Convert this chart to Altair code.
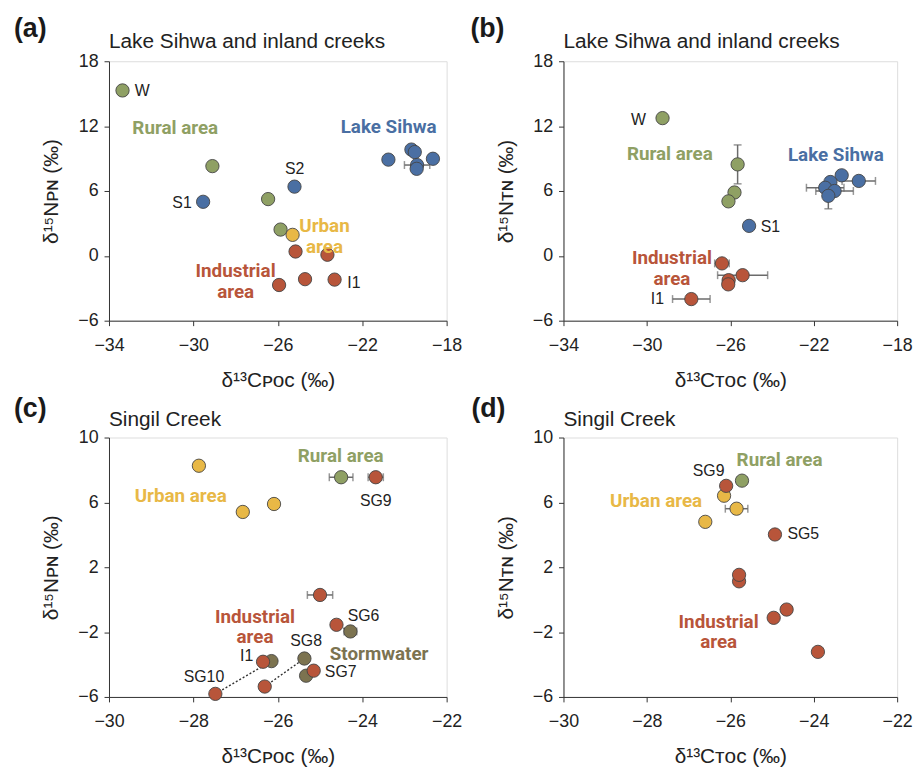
import altair as alt
import pandas as pd

FONT = "Liberation Sans, Arial, Helvetica, sans-serif"
BOLD_FONT = "Roboto, Liberation Sans Narrow, Arial, sans-serif"
TXT = "#222222"
ERR = "#6b6b6b"

group_names = ["Rural", "Lake", "Urban", "Industrial", "Storm"]
group_fill = ["#8fa064", "#4a6fa3", "#e8b846", "#b8553a", "#7c7350"]
group_text = ["#8a9d62", "#4d6a9a", "#e5b640", "#b95a3e", "#7b7250"]

# ---------------- panel (a) ----------------
a_x = [-33.36, -29.1, -26.46, -25.87, -29.54, -25.21, -20.76, -19.67, -19.51, -19.4, -19.42, -18.65,
       -25.3, -25.16, -23.65, -24.71, -23.31, -25.94]
a_y = [15.3, 8.3, 5.25, 2.43, 5.0, 6.4, 8.9, 9.83, 9.6, 8.4, 8.05, 8.98,
       1.94, 0.4, 0.1, -2.16, -2.2, -2.7]
a_g = ["Rural"] * 4 + ["Lake"] * 8 + ["Urban"] + ["Industrial"] * 5
a_xerr = [0] * 9 + [0.6] + [0] * 8
a_yerr = [0] * 18
a_lab = ["W", "S1", "S2", "I1"]
a_lab_x = [-32.78, -30.08, -25.2, -22.71]
a_lab_y = [15.2, 4.85, 8.0, -2.49]
a_lab_al = ["left", "right", "center", "left"]
a_reg = ["Rural area", "Lake Sihwa", "Urban\narea", "Industrial\narea"]
a_reg_x = [-30.86, -20.75, -23.79, -28.0]
a_reg_y = [11.85, 11.94, 2.73, -1.44]
a_reg_g = ["Rural", "Lake", "Urban", "Industrial"]

# ---------------- panel (b) ----------------
b_x = [-29.25, -25.65, -25.8, -26.09, -25.1, -20.66, -19.84, -21.2, -21.45, -21.0, -21.3,
       -26.4, -26.08, -26.1, -25.41, -27.87]
b_y = [12.74, 8.46, 5.86, 5.04, 2.77, 7.45, 6.93, 6.83, 6.3, 6.0, 5.55,
       -0.7, -2.25, -2.64, -1.79, -4.0]
b_g = ["Rural"] * 4 + ["Lake"] * 7 + ["Industrial"] * 5
b_xerr = [0, 0, 0, 0, 0, 0, 0.8, 0, 0.9, 0.9, 0, 0.35, 0, 0, 1.2, 0.9]
b_yerr = [0, 1.8, 0, 0, 0, 0, 0, 0, 0, 0, 1.2, 0, 0, 0, 0, 0]
b_lab = ["W", "S1", "I1"]
b_lab_x = [-30.04, -24.54, -29.18]
b_lab_y = [12.59, 2.65, -4.0]
b_lab_al = ["right", "left", "right"]
b_reg = ["Rural area", "Lake Sihwa", "Industrial\narea"]
b_reg_x = [-28.9, -20.94, -28.8]
b_reg_y = [9.38, 9.28, -0.21]
b_reg_g = ["Rural", "Lake", "Industrial"]

# ---------------- panel (c) ----------------
c_x = [-27.87, -26.83, -26.09, -24.5, -24.28, -26.15, -25.37, -25.33,
       -23.68, -25.0, -24.61, -26.35, -25.15, -26.31, -27.48]
c_y = [8.26, 5.41, 5.9, 7.55, -1.96, -3.79, -3.63, -4.69,
       7.55, 0.29, -1.55, -3.83, -4.38, -5.36, -5.81]
c_g = ["Urban"] * 3 + ["Rural"] + ["Storm"] * 4 + ["Industrial"] * 7
c_xerr = [0, 0, 0, 0.28, 0.15, 0, 0, 0, 0.18, 0.3, 0, 0, 0, 0, 0]
c_yerr = [0] * 15
c_lab = ["SG9", "SG6", "SG8", "I1", "SG7", "SG10"]
c_lab_x = [-23.68, -23.97, -25.33, -26.74, -24.51, -27.75]
c_lab_y = [6.08, -0.98, -2.57, -3.45, -4.49, -4.75]
c_lab_al = ["center"] * 6
c_reg = ["Rural area", "Urban area", "Industrial\narea", "Stormwater"]
c_reg_x = [-24.51, -28.3, -26.54, -23.6]
c_reg_y = [8.86, 6.36, -1.05, -3.38]
c_reg_g = ["Rural", "Urban", "Industrial", "Storm"]
c_pair = [1, 1, 2, 2, 3, 3, 4, 4]
c_pair_x = [-27.48, -26.15, -26.31, -25.37, -25.15, -25.33, -24.61, -24.28]
c_pair_y = [-5.81, -3.79, -5.36, -3.63, -4.38, -4.69, -1.55, -1.96]

# ---------------- panel (d) ----------------
d_x = [-26.15, -25.85, -26.6, -25.72, -26.1, -24.93, -25.79, -25.79, -24.65, -24.96, -23.9]
d_y = [6.41, 5.61, 4.8, 7.34, 7.02, 4.02, 1.13, 1.53, -0.61, -1.12, -3.22]
d_g = ["Urban"] * 3 + ["Rural"] + ["Industrial"] * 7
d_xerr = [0, 0.27, 0, 0.12, 0, 0, 0, 0, 0, 0, 0]
d_yerr = [0] * 11
d_lab = ["SG9", "SG5"]
d_lab_x = [-26.52, -24.63]
d_lab_y = [7.94, 4.02]
d_lab_al = ["center", "left"]
d_reg = ["Rural area", "Urban area", "Industrial\narea"]
d_reg_x = [-24.82, -27.78, -26.28]
d_reg_y = [8.64, 6.06, -1.36]
d_reg_g = ["Rural", "Urban", "Industrial"]

ticks_ab_x = [-34, -30, -26, -22, -18]
ticks_ab_y = [-6, 0, 6, 12, 18]
ticks_cd_x = [-30, -28, -26, -24, -22]
ticks_cd_y = [-6, -2, 2, 6, 10]

X_POC = "δ¹³Cᴘᴏᴄ (‰)"
X_TOC = "δ¹³Cᴛᴏᴄ (‰)"
Y_PN = "δ¹⁵Nᴘɴ (‰)"
Y_TN = "δ¹⁵Nᴛɴ (‰)"


def panel(px, py, pg, pxerr, pyerr, lab, lab_x, lab_y, lab_al, reg, reg_x, reg_y, reg_g,
          xdom, ydom, xt, yt, xtitle, ytitle, letter, title, w, h, lx, ly, ty,
          pair=None, pair_x=None, pair_y=None):
    xs = alt.Scale(domain=xdom, nice=False, zero=False)
    ys = alt.Scale(domain=ydom, nice=False, zero=False)
    common = dict(grid=False, domainColor="#333", tickColor="#333", tickSize=5,
                  labelFont=FONT, titleFont=FONT, labelFontSize=18, titleFontSize=21,
                  titleFontWeight="normal", labelColor=TXT, titleColor=TXT,
                  labelFlush=False, labelOverlap=False)
    xax = alt.Axis(values=xt, title=xtitle, labelPadding=11, titlePadding=15, **common)
    yax = alt.Axis(values=yt, title=ytitle, labelPadding=6, titlePadding=16, **common)

    def X(f):
        return alt.X(f, type="quantitative", scale=xs, axis=xax)

    def Y(f):
        return alt.Y(f, type="quantitative", scale=ys, axis=yax)

    df = pd.DataFrame({"x": px, "y": py, "g": pg, "xerr": pxerr, "yerr": pyerr})
    df["o"] = range(len(df))
    layers = []
    xe = df[df.xerr > 0].copy()
    if len(xe):
        xe["lo"] = xe.x - xe.xerr
        xe["hi"] = xe.x + xe.xerr
        layers.append(alt.Chart(xe).mark_rule(color=ERR, strokeWidth=1.5).encode(
            x=X("lo"), x2="hi", y=Y("y")))
        for f in ["lo", "hi"]:
            layers.append(alt.Chart(xe).mark_tick(orient="vertical", size=8, thickness=1.5,
                                                  color=ERR).encode(x=X(f), y=Y("y")))
    ye = df[df.yerr > 0].copy()
    if len(ye):
        ye["lo"] = ye.y - ye.yerr
        ye["hi"] = ye.y + ye.yerr
        layers.append(alt.Chart(ye).mark_rule(color=ERR, strokeWidth=1.5).encode(
            x=X("x"), y=Y("lo"), y2="hi"))
        for f in ["lo", "hi"]:
            layers.append(alt.Chart(ye).mark_tick(orient="horizontal", size=8, thickness=1.5,
                                                  color=ERR).encode(x=X("x"), y=Y(f)))
    if pair is not None:
        pdf = pd.DataFrame({"p": pair, "x": pair_x, "y": pair_y})
        layers.append(alt.Chart(pdf).mark_line(strokeDash=[2, 2], color="#333",
                                               strokeWidth=1.4).encode(
            x=X("x"), y=Y("y"), detail="p:N"))
    layers.append(alt.Chart(df).mark_point(filled=True, shape="circle", size=180, opacity=1,
                                           stroke="#444", strokeWidth=0.9).encode(
        x=X("x"), y=Y("y"),
        color=alt.Color("g:N", scale=alt.Scale(domain=group_names, range=group_fill), legend=None),
        order=alt.Order("o:Q")))
    ldf = pd.DataFrame({"t": lab, "x": lab_x, "y": lab_y, "al": lab_al})
    for al in ["left", "center", "right"]:
        sub = ldf[ldf.al == al]
        if len(sub):
            layers.append(alt.Chart(sub).mark_text(font=FONT, fontSize=16, color=TXT, align=al,
                                                   baseline="middle").encode(
                x=X("x"), y=Y("y"), text="t:N"))
    rdf = pd.DataFrame({"t": reg, "x": reg_x, "y": reg_y, "g": reg_g})
    layers.append(alt.Chart(rdf).mark_text(font=BOLD_FONT, fontWeight="bold", fontSize=19,
                                           lineBreak="\n", lineHeight=21, baseline="middle",
                                           align="center").encode(
        x=X("x"), y=Y("y"), text="t:N",
        color=alt.Color("g:N", scale=alt.Scale(domain=group_names, range=group_text), legend=None)))
    tdf = pd.DataFrame({"t": [letter]})
    layers.append(alt.Chart(tdf).mark_text(font=FONT, fontWeight="bold", fontSize=27,
                                           align="left", baseline="alphabetic",
                                           color="#1a1a1a").encode(
        x=alt.value(lx), y=alt.value(ly), text="t:N"))
    hdf = pd.DataFrame({"t": [title]})
    layers.append(alt.Chart(hdf).mark_text(font=FONT, fontSize=21, align="left",
                                           baseline="alphabetic", color=TXT).encode(
        x=alt.value(0), y=alt.value(ty), text="t:N"))
    return alt.layer(*layers).properties(width=w, height=h)


pa = panel(a_x, a_y, a_g, a_xerr, a_yerr, a_lab, a_lab_x, a_lab_y, a_lab_al,
           a_reg, a_reg_x, a_reg_y, a_reg_g, [-34, -18], [-6, 18], ticks_ab_x, ticks_ab_y,
           X_POC, Y_PN, "(a)", "Lake Sihwa and inland creeks", 341, 262, -96, -25, -13)
pb = panel(b_x, b_y, b_g, b_xerr, b_yerr, b_lab, b_lab_x, b_lab_y, b_lab_al,
           b_reg, b_reg_x, b_reg_y, b_reg_g, [-34, -18], [-6, 18], ticks_ab_x, ticks_ab_y,
           X_TOC, Y_TN, "(b)", "Lake Sihwa and inland creeks", 337, 262, -94, -25, -13)
pc = panel(c_x, c_y, c_g, c_xerr, c_yerr, c_lab, c_lab_x, c_lab_y, c_lab_al,
           c_reg, c_reg_x, c_reg_y, c_reg_g, [-30, -22], [-6, 10], ticks_cd_x, ticks_cd_y,
           X_POC, Y_PN, "(c)", "Singil Creek", 341, 262, -96, -21, -12,
           c_pair, c_pair_x, c_pair_y)
pd_ = panel(d_x, d_y, d_g, d_xerr, d_yerr, d_lab, d_lab_x, d_lab_y, d_lab_al,
            d_reg, d_reg_x, d_reg_y, d_reg_g, [-30, -22], [-6, 10], ticks_cd_x, ticks_cd_y,
            X_TOC, Y_TN, "(d)", "Singil Creek", 337, 262, -93, -21, -12)

chart = alt.concat(pa, pb, pc, pd_, columns=2, spacing={"row": 118, "column": 118},
                   bounds="flush").properties(
    padding={"left": 5, "top": 2, "right": 0, "bottom": 0}
).configure_view(stroke="#333", strokeWidth=1.2).configure(background="white")

chart.save("out.html", embed_options={"renderer": "svg", "actions": False})
